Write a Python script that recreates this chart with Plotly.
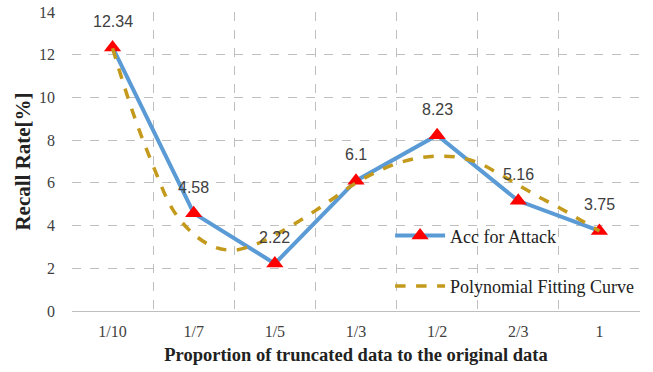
import plotly.graph_objects as go

categories = ["1/10", "1/7", "1/5", "1/3", "1/2", "2/3", "1"]
recall = [12.34, 4.58, 2.22, 6.1, 8.23, 5.16, 3.75]

# polynomial fitting curve at quarter-category steps
fit_pos = [0, 0.25, 0.5, 0.75, 1, 1.25, 1.5, 1.75, 2, 2.25, 2.5, 2.75, 3,
           3.25, 3.5, 3.75, 4, 4.25, 4.5, 4.75, 5, 5.25, 5.5, 5.75, 6]
fit_val = [12.3, 9.3, 6.8, 4.7, 3.6, 3.0, 2.85, 3.1, 3.55, 4.1, 4.7, 5.35, 6.0,
           6.5, 6.9, 7.15, 7.25, 7.2, 6.95, 6.45, 5.9, 5.35, 4.85, 4.3, 3.75]

y_ticks = [0, 2, 4, 6, 8, 10, 12, 14]

cat_pos = list(range(len(categories)))
serif = "Liberation Serif"

fig = go.Figure()
fig.add_trace(go.Scatter(
    x=cat_pos, y=recall, mode="lines+markers", name="Acc for Attack",
    line=dict(color="#5B9BD5", width=4),
    marker=dict(symbol="triangle-up", size=15, color="#FF0000"),
    legendgroup="a",
))
fig.add_trace(go.Scatter(
    x=fit_pos, y=fit_val, mode="lines", name="Polynomial Fitting Curve",
    line=dict(color="#C49A1C", width=3.5, dash="dash", shape="spline"),
    legendgroup="b",
))

for xp, v in zip(cat_pos, recall):
    fig.add_annotation(x=xp, y=v, text=f"{v:g}", showarrow=False, yshift=26,
                       font=dict(family="Liberation Sans", size=16, color="#404040"))

fig.update_layout(
    width=653, height=372,
    margin=dict(l=72, r=13, t=12, b=61),
    paper_bgcolor="white", plot_bgcolor="white",
    showlegend=True,
    legend=dict(x=0.56, y=0.313, xanchor="left", yanchor="top",
                bgcolor="rgba(0,0,0,0)", font=dict(family=serif, size=18, color="#222"),
                tracegroupgap=24, itemwidth=50),
    xaxis=dict(
        range=[-0.5, 6.5], tickmode="array", tickvals=cat_pos, ticktext=categories,
        showgrid=False, zeroline=False, showline=True, linecolor="#BFBFBF", linewidth=1,
        ticks="", tickfont=dict(family=serif, size=16, color="#404040"),
        ticklabelstandoff=6, automargin=False,
        title=dict(text="<b>Proportion of truncated data to the original data</b>",
                   font=dict(family=serif, size=18.5, color="#222"), standoff=8),
        minor=dict(tickmode="array", tickvals=[i - 0.5 for i in range(8)],
                   showgrid=True, gridcolor="#BFBFBF", griddash="dash", gridwidth=1),
    ),
    yaxis=dict(
        range=[0, 14], tickmode="array", tickvals=y_ticks,
        showgrid=True, gridcolor="#BFBFBF", griddash="dash", gridwidth=1,
        zeroline=False, showline=False, ticks="",
        tickfont=dict(family=serif, size=16, color="#404040"),
        ticklabelstandoff=16, automargin=False,
        title=dict(text="<b>Recall Rate[%]</b>",
                   font=dict(family=serif, size=21, color="#222"), standoff=2),
    ),
)

fig.write_html("out.html", config={"displayModeBar": False},
               post_script="document.body.style.margin='0';")
